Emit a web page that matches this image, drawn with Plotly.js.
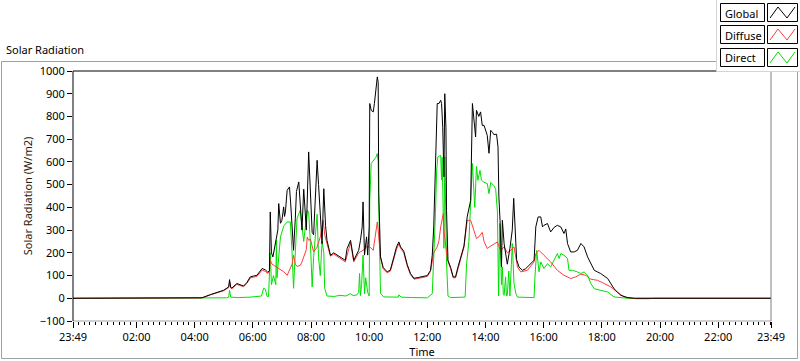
<!DOCTYPE html>
<html>
<head>
<meta charset="utf-8">
<script src="https://cdn.plot.ly/plotly-3.0.1.min.js"></script>
<style>html,body{margin:0;padding:0;background:#fff;}#chart{width:800px;height:361px;}</style>
</head>
<body>
<div id="chart"></div>
<script>
// Time in decimal hours of the day (first point = 23:49 of the previous day)
const seriesNames = ["Global", "Diffuse", "Direct"];
const seriesColors = ["#000000", "#ff3c3c", "#00e000"];
const tickLabels = ["23:49","02:00","04:00","06:00","08:00","10:00","12:00","14:00","16:00","18:00","20:00","22:00","23:49"];
const tickHours = [-11/60, 2, 4, 6, 8, 10, 12, 14, 16, 18, 20, 22, 23 + 49/60];

const globalSeries = [[-0.183,0],[4.00,0],[4.25,2],[4.54,16],[4.80,25],[4.99,35],[5.17,50],[5.20,82],[5.24,48],[5.28,45],[5.45,65],[5.68,54],[5.80,70],[5.91,94],[6.03,98],[6.14,101],[6.32,131],[6.43,125],[6.51,115],[6.57,120],[6.60,380],[6.64,200],[6.69,182],[6.75,220],[6.81,255],[6.86,300],[6.89,417],[6.95,330],[7.00,343],[7.06,402],[7.09,360],[7.12,380],[7.18,475],[7.26,490],[7.30,420],[7.35,300],[7.40,211],[7.46,350],[7.50,470],[7.58,512],[7.63,420],[7.69,300],[7.75,480],[7.80,400],[7.84,300],[7.92,644],[7.96,500],[8.00,380],[8.04,290],[8.09,280],[8.15,450],[8.21,607],[8.26,500],[8.30,400],[8.38,240],[8.44,482],[8.47,380],[8.50,320],[8.55,255],[8.67,189],[8.78,200],[8.95,185],[9.01,182],[9.10,175],[9.18,167],[9.24,218],[9.36,255],[9.47,167],[9.64,211],[9.70,255],[9.76,314],[9.79,424],[9.84,190],[9.91,270],[9.95,190],[10.00,314],[10.02,857],[10.07,827],[10.14,820],[10.18,857],[10.23,915],[10.28,974],[10.31,950],[10.33,460],[10.39,182],[10.48,136],[10.62,116],[10.73,125],[10.85,182],[10.94,226],[11.02,248],[11.08,226],[11.19,207],[11.31,148],[11.42,109],[11.54,88],[11.71,92],[11.88,95],[12.00,100],[12.11,123],[12.17,190],[12.22,314],[12.28,607],[12.34,857],[12.40,857],[12.46,871],[12.49,857],[12.53,750],[12.57,534],[12.60,900],[12.64,750],[12.66,387],[12.71,167],[12.80,136],[12.89,94],[12.97,94],[13.05,136],[13.14,182],[13.26,230],[13.37,358],[13.43,400],[13.49,431],[13.55,857],[13.60,790],[13.66,710],[13.69,827],[13.77,800],[13.83,820],[13.89,760],[13.95,761],[14.06,717],[14.12,638],[14.18,739],[14.24,730],[14.29,720],[14.38,722],[14.43,666],[14.46,446],[14.50,343],[14.55,138],[14.58,343],[14.64,240],[14.69,200],[14.75,150],[14.84,220],[14.92,300],[14.97,440],[15.02,300],[15.07,170],[15.15,138],[15.27,123],[15.38,130],[15.50,145],[15.67,167],[15.73,314],[15.81,358],[15.90,358],[15.96,314],[16.01,321],[16.13,329],[16.24,292],[16.36,312],[16.47,321],[16.59,314],[16.70,285],[16.76,305],[16.82,241],[16.93,204],[17.05,204],[17.16,211],[17.28,241],[17.39,226],[17.51,182],[17.62,152],[17.74,123],[17.85,116],[17.96,109],[18.20,87],[18.42,42],[18.65,13],[18.88,3],[19.11,0],[23.817,0]];

const diffuseSeries = [[-0.183,0],[4.00,0],[4.25,2],[4.54,15],[4.80,24],[4.99,33],[5.17,47],[5.20,72],[5.24,45],[5.28,42],[5.45,61],[5.68,51],[5.80,66],[5.91,89],[6.03,93],[6.14,96],[6.32,124],[6.43,118],[6.51,110],[6.57,115],[6.60,167],[6.66,150],[6.71,146],[6.80,138],[6.89,131],[6.97,125],[7.06,117],[7.18,101],[7.29,131],[7.35,150],[7.40,189],[7.46,150],[7.52,140],[7.63,145],[7.69,160],[7.75,182],[7.84,215],[7.87,270],[7.92,255],[7.98,260],[8.04,220],[8.09,204],[8.21,225],[8.32,270],[8.42,343],[8.47,280],[8.55,240],[8.67,185],[8.78,195],[8.95,180],[9.01,178],[9.18,160],[9.36,245],[9.47,160],[9.64,200],[9.79,211],[9.91,226],[10.02,226],[10.14,211],[10.23,284],[10.28,336],[10.31,300],[10.39,182],[10.48,130],[10.62,112],[10.73,120],[10.85,175],[10.94,215],[11.02,240],[11.08,220],[11.19,200],[11.31,142],[11.42,104],[11.54,84],[11.71,88],[11.88,92],[12.00,96],[12.11,118],[12.22,200],[12.34,226],[12.40,255],[12.46,314],[12.55,373],[12.57,300],[12.63,226],[12.69,170],[12.80,130],[12.89,90],[12.97,90],[13.05,130],[13.14,175],[13.26,225],[13.37,343],[13.49,343],[13.60,299],[13.69,263],[13.77,270],[13.89,290],[13.95,250],[14.06,219],[14.18,230],[14.29,240],[14.41,248],[14.46,230],[14.52,211],[14.64,226],[14.75,200],[14.87,211],[14.98,226],[15.10,138],[15.21,116],[15.44,123],[15.67,160],[15.73,197],[15.84,211],[16.01,189],[16.24,160],[16.47,123],[16.70,101],[16.93,87],[17.10,94],[17.28,106],[17.45,101],[17.62,84],[17.85,79],[18.08,65],[18.31,50],[18.54,26],[18.77,6],[19.00,1],[19.20,-2],[19.60,-2],[19.80,0],[23.817,0]];

const directSeries = [[-0.183,0],[4.00,0],[4.25,0],[5.10,2],[5.17,5],[5.20,35],[5.24,5],[5.50,3],[5.91,5],[6.14,8],[6.30,10],[6.37,44],[6.43,40],[6.49,8],[6.54,8],[6.60,200],[6.64,60],[6.71,100],[6.79,60],[6.81,255],[6.83,90],[6.95,270],[7.06,317],[7.18,336],[7.29,336],[7.35,200],[7.40,44],[7.46,200],[7.52,352],[7.63,387],[7.75,250],[7.87,387],[7.92,380],[7.98,240],[8.04,50],[8.09,180],[8.15,300],[8.21,370],[8.26,180],[8.32,100],[8.38,250],[8.44,200],[8.47,44],[8.55,10],[8.80,8],[9.00,13],[9.20,10],[9.36,20],[9.45,12],[9.58,15],[9.64,25],[9.67,109],[9.70,12],[9.74,60],[9.79,190],[9.84,20],[9.88,90],[9.95,25],[10.00,10],[10.02,431],[10.07,593],[10.14,607],[10.18,610],[10.23,620],[10.28,637],[10.31,600],[10.33,415],[10.36,170],[10.39,22],[10.50,6],[11.00,5],[11.02,15],[11.10,5],[11.50,3],[12.00,2],[12.17,20],[12.22,167],[12.28,373],[12.32,560],[12.36,622],[12.46,629],[12.49,520],[12.51,620],[12.53,400],[12.57,220],[12.60,622],[12.64,300],[12.66,160],[12.71,10],[12.80,3],[13.30,5],[13.35,152],[13.43,250],[13.49,417],[13.55,593],[13.58,520],[13.63,400],[13.69,580],[13.74,519],[13.81,563],[13.86,520],[13.95,510],[14.06,505],[14.12,460],[14.18,510],[14.29,495],[14.35,480],[14.41,380],[14.45,10],[14.49,329],[14.52,200],[14.55,60],[14.58,138],[14.61,20],[14.64,13],[14.69,94],[14.72,10],[14.75,13],[14.80,120],[14.84,10],[14.89,150],[14.92,241],[14.98,65],[15.04,22],[15.10,5],[15.50,3],[15.67,3],[15.70,94],[15.76,211],[15.84,116],[15.90,160],[16.01,131],[16.13,152],[16.24,138],[16.36,167],[16.47,197],[16.53,175],[16.59,197],[16.70,189],[16.82,175],[16.87,123],[16.99,123],[17.16,116],[17.28,109],[17.39,116],[17.51,101],[17.62,65],[17.74,42],[17.96,35],[18.20,28],[18.42,6],[18.65,2],[18.88,0],[23.817,0]];

const allSeries = [globalSeries, diffuseSeries, directSeries];

// pixel -> paper helpers for the decorative frame (plot area: x 73..771, y 71..321)
const L = 73, R = 771, T = 71, B = 321;
const X = p => (p - L) / (R - L);
const Y = p => (B - p) / (B - T);

const FONT = "Noto Sans, DejaVu Sans, sans-serif";

// draw Direct first, then Diffuse, then Global on top
const order = [2, 1, 0];
const traces = order.map(i => ({
  type: "scatter", mode: "lines", name: seriesNames[i],
  x: allSeries[i].map(p => p[0]), y: allSeries[i].map(p => p[1]),
  line: {color: seriesColors[i], width: 1, shape: "linear"},
  showlegend: false, hoverinfo: "skip"
}));

const shapes = [];
function line(x0, y0, x1, y1, color) {
  shapes.push({type: "line", xref: "paper", yref: "paper", x0: X(x0), y0: Y(y0), x1: X(x1), y1: Y(y1), line: {color: color, width: 1}});
}
// outer frame
shapes.push({type: "rect", xref: "paper", yref: "paper", x0: X(1.5), y0: Y(61.5), x1: X(797.5), y1: Y(358.5), line: {color: "#a0a0a0", width: 1}});
// plot area borders
line(L, B, R, B, "#a0a0a0");
line(R, T, R, B, "#808080");
line(L, T, R, T, "#000000");
line(L, T, L, B, "#000000");
// legend panel
shapes.push({type: "rect", xref: "paper", yref: "paper", x0: X(716.5), y0: Y(-2), x1: X(803), y1: Y(71.5), fillcolor: "#ffffff", line: {color: "#d4d4d4", width: 1}});
const annotations = [];
const rowsY = [13, 35, 58];
seriesNames.forEach((name, i) => {
  const yc = rowsY[i];
  shapes.push({type: "rect", xref: "paper", yref: "paper", x0: X(720.5), y0: Y(yc - 9.5), x1: X(764.5), y1: Y(yc + 8.5), fillcolor: "#ffffff", line: {color: "#000000", width: 1}});
  shapes.push({type: "rect", xref: "paper", yref: "paper", x0: X(767.5), y0: Y(yc - 9.5), x1: X(797.5), y1: Y(yc + 8.5), fillcolor: "#ffffff", line: {color: "#000000", width: 1}});
  const pts = [[770, yc + 5], [778, yc - 6], [787, yc + 5], [795, yc - 6]];
  const path = "M " + pts.map(p => X(p[0]) + "," + Y(p[1])).join(" L ");
  shapes.push({type: "path", xref: "paper", yref: "paper", path: path, line: {color: seriesColors[i], width: 1}});
  annotations.push({xref: "paper", yref: "paper", x: X(723), y: Y(yc), xanchor: "left", yanchor: "middle", text: name, showarrow: false, font: {family: FONT, size: 11, color: "#000"}});
});
annotations.push({xref: "paper", yref: "paper", x: X(4), y: Y(50), xanchor: "left", yanchor: "middle", text: "Solar Radiation", showarrow: false, font: {family: FONT, size: 11, color: "#000"}});

const layout = {
  width: 800, height: 361,
  margin: {l: L, r: 800 - R, t: T, b: 361 - B, pad: 0},
  paper_bgcolor: "#ffffff", plot_bgcolor: "#ffffff",
  showlegend: false,
  font: {family: FONT, size: 11, color: "#000"},
  xaxis: {
    range: [-11/60, 23 + 49/60], tickmode: "array", tickvals: tickHours, ticktext: tickLabels,
    ticks: "outside", ticklen: 6, tickcolor: "#000", tickwidth: 1,
    minor: {ticks: "outside", ticklen: 3, tick0: 0, dtick: 0.2, tickcolor: "#000", tickwidth: 1, showgrid: false},
    showgrid: false, zeroline: false, showline: false, automargin: false,
    tickfont: {family: FONT, size: 11, color: "#000"},
    title: {text: "Time", font: {family: FONT, size: 11, color: "#000"}, standoff: 4}
  },
  yaxis: {
    range: [-100, 1000], tickmode: "linear", tick0: 0, dtick: 100,
    ticks: "outside", ticklen: 5, tickcolor: "#000", tickwidth: 1,
    showgrid: false, zeroline: false, showline: false, automargin: false,
    tickfont: {family: FONT, size: 11, color: "#000"},
    title: {text: "Solar Radiation (W/m2)", font: {family: FONT, size: 11, color: "#2a1a0a"}, standoff: 4}
  },
  shapes: shapes,
  annotations: annotations
};

Plotly.newPlot("chart", traces, layout, {staticPlot: true, displayModeBar: false});
</script>
</body>
</html>
